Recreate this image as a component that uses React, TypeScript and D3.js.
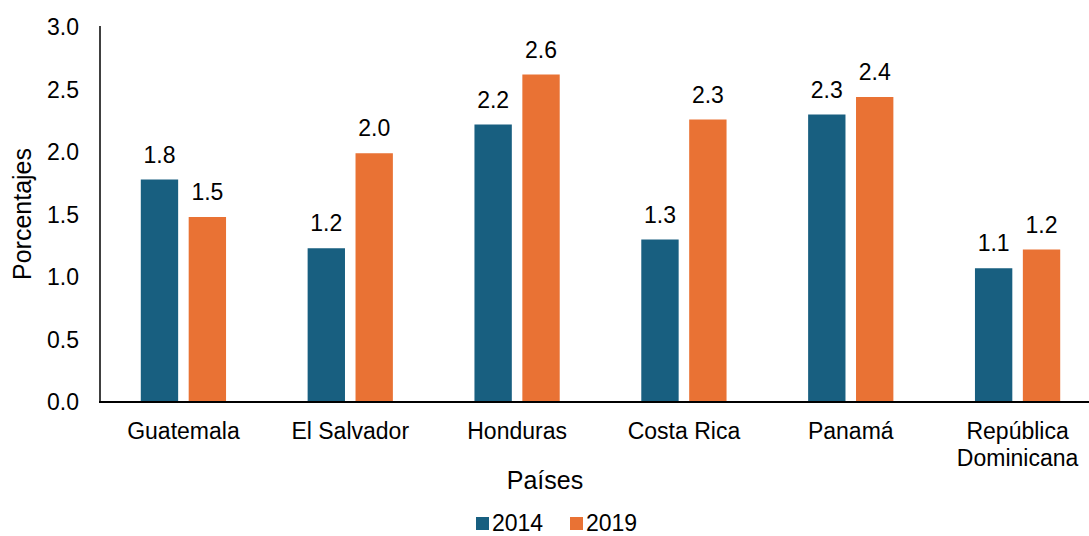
import React from "react";
import * as d3 from "d3";

const countries = ["Guatemala", "El Salvador", "Honduras", "Costa Rica", "Panamá", "República Dominicana"];
const countryLines = [["Guatemala"], ["El Salvador"], ["Honduras"], ["Costa Rica"], ["Panamá"], ["República", "Dominicana"]];
const seriesNames = ["2014", "2019"];
const values2014 = [1.78, 1.23, 2.22, 1.3, 2.3, 1.07];
const values2019 = [1.48, 1.99, 2.62, 2.26, 2.44, 1.22];
const yTicks = [0, 0.5, 1.0, 1.5, 2.0, 2.5, 3.0];
const colors = ["#185F80", "#E97234"];

const W = 1089;
const H = 536;
const FONT = "'Liberation Sans', Arial, sans-serif";
const FS = 23;

export default function App() {
  const x0 = d3.scaleBand<string>().domain(countries).range([100, 1101]).paddingInner(0.489).paddingOuter(0.2445);
  const x1 = d3.scaleBand<string>().domain(seriesNames).range([0, x0.bandwidth()]).paddingInner(0.22).paddingOuter(0);
  const y = d3.scaleLinear().domain([0, 3]).range([402, 27]);
  const color = d3.scaleOrdinal<string, string>().domain(seriesNames).range(colors);
  const series = [values2014, values2019];
  const fmt = d3.format(".1f");

  const T = (props: { x: number; y: number; anchor?: string; children: React.ReactNode; size?: number; rotate?: number }) => (
    <text
      transform={`translate(${props.x},${props.y})${props.rotate ? ` rotate(${props.rotate})` : ""}`}
      textAnchor={props.anchor || "middle"}
      fontFamily={FONT}
      fontSize={props.size || FS}
      fill="#000"
    >
      {props.children}
    </text>
  );

  return (
    <div style={{ position: "absolute", left: 0, top: 0 }}>
      <svg width={W} height={H} style={{ display: "block", background: "#fff" }}>
        {/* y ticks */}
        {yTicks.map((t) => (
          <T key={t} x={79} y={y(t) + 8} anchor="end">
            {fmt(t)}
          </T>
        ))}
        {/* bars */}
        {countries.map((c, i) => (
          <g key={c} transform={`translate(${x0(c)},0)`}>
            {seriesNames.map((s, j) => {
              const v = series[j][i];
              const bx = x1(s)!;
              return (
                <g key={s}>
                  <rect x={bx} y={y(v)} width={x1.bandwidth()} height={y(0) - y(v)} fill={color(s)} />
                  <T x={bx + x1.bandwidth() / 2} y={y(v) - 17}>
                    {fmt(v)}
                  </T>
                </g>
              );
            })}
          </g>
        ))}
        {/* axes */}
        <line x1={100} x2={100} y1={26} y2={402} stroke="#000" strokeWidth={1.5} />
        <line x1={99} x2={W} y1={402} y2={402} stroke="#000" strokeWidth={2} />
        {/* x labels */}
        {countries.map((c, i) =>
          countryLines[i].map((ln, k) => (
            <T key={c + k} x={x0(c)! + x0.bandwidth() / 2} y={439 + k * 27}>
              {ln}
            </T>
          ))
        )}
        {/* axis titles */}
        <T x={545} y={489} size={25}>
          Países
        </T>
        <T x={31} y={214} rotate={-90} size={25}>
          Porcentajes
        </T>
        {/* legend */}
        {seriesNames.map((s, j) => {
          const lx = 476 + j * 94;
          return (
            <g key={s}>
              <rect x={lx} y={517} width={13} height={13} fill={color(s)} />
              <T x={lx + 16} y={531} anchor="start">
                {s}
              </T>
            </g>
          );
        })}
      </svg>
    </div>
  );
}
